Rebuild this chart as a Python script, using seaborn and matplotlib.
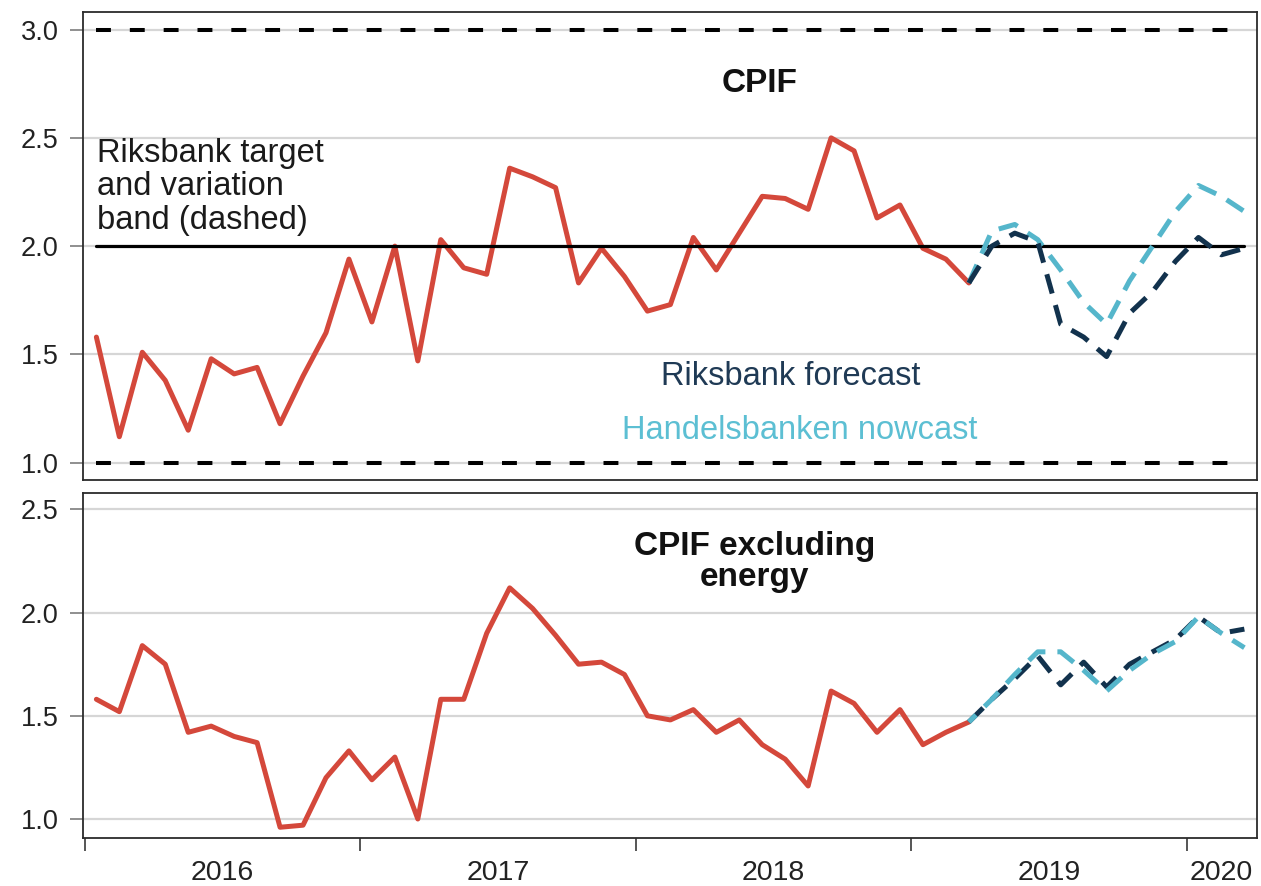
import pandas as pd
import matplotlib.pyplot as plt
import matplotlib.ticker as mticker
import seaborn as sns

# Outcomes, monthly Jan 2016 - Mar 2019 (annual % change)
outcome_months = pd.period_range("2016-01", "2019-03", freq="M")
cpif = [1.58, 1.12, 1.51, 1.38, 1.15, 1.48, 1.41, 1.44, 1.18, 1.40,
        1.60, 1.94, 1.65, 2.00, 1.47, 2.03, 1.90, 1.87, 2.36, 2.32,
        2.27, 1.83, 1.99, 1.86, 1.70, 1.73, 2.04, 1.89, 2.06, 2.23,
        2.22, 2.17, 2.50, 2.44, 2.13, 2.19, 1.99, 1.94, 1.83]
cpif_ex_energy = [1.58, 1.52, 1.84, 1.75, 1.42, 1.45, 1.40, 1.37, 0.96, 0.97,
                  1.20, 1.33, 1.19, 1.30, 1.00, 1.58, 1.58, 1.90, 2.12, 2.02,
                  1.89, 1.75, 1.76, 1.70, 1.50, 1.48, 1.53, 1.42, 1.48, 1.36,
                  1.29, 1.16, 1.62, 1.56, 1.42, 1.53, 1.36, 1.42, 1.47]

# Forecasts Mar 2019 - Mar 2020 (start at last outcome)
forecast_months = pd.period_range("2019-03", "2020-03", freq="M")
riksbank_cpif = [1.83, 2.00, 2.06, 2.02, 1.64, 1.58, 1.49, 1.69, 1.79,
                 1.93, 2.04, 1.96, 1.99]
handelsbanken_cpif = [1.83, 2.07, 2.10, 2.03, 1.89, 1.74, 1.64, 1.84, 2.00,
                      2.16, 2.28, 2.23, 2.16]
riksbank_ex_energy = [1.47, 1.58, 1.68, 1.79, 1.65, 1.76, 1.64, 1.75, 1.81,
                      1.87, 1.98, 1.90, 1.92]
handelsbanken_ex_energy = [1.47, 1.58, 1.70, 1.81, 1.81, 1.72, 1.62, 1.72, 1.80,
                           1.86, 1.98, 1.90, 1.83]

target = 2.0
band = [1.0, 3.0]
years = [2016, 2017, 2018, 2019, 2020]
top_ticks = [1.0, 1.5, 2.0, 2.5, 3.0]
bottom_ticks = [1.0, 1.5, 2.0, 2.5]

RED = "#d4483b"
NAVY = "#12324d"
TEAL = "#55b6cb"


def to_year(months):
    # place each month in the middle of its slot on a decimal-year axis
    return [m.year + (m.month - 0.5) / 12 for m in months]


outcome = pd.DataFrame({"x": to_year(outcome_months), "cpif": cpif,
                        "cpif_xe": cpif_ex_energy})
forecast = pd.DataFrame({"x": to_year(forecast_months),
                         "rb_cpif": riksbank_cpif, "hb_cpif": handelsbanken_cpif,
                         "rb_xe": riksbank_ex_energy, "hb_xe": handelsbanken_ex_energy})

sns.set_style("white")
plt.rcParams["font.family"] = ["Liberation Sans", "DejaVu Sans"]

fig = plt.figure(figsize=(12.61, 8.86), dpi=100)
ax_top = fig.add_axes([0.0658, 0.4582, 0.931, 0.528])
ax_bot = fig.add_axes([0.0658, 0.0542, 0.931, 0.389])

x_start = outcome["x"].iloc[0]
x_end = forecast["x"].iloc[-1]
dash_fc = (0, (4.0, 2.4))

# top panel: CPIF
ax = ax_top
ax.plot([x_start, x_end], [band[0]] * 2, color="black", lw=2.9,
        linestyle=(0, (3.7, 4.7)), zorder=3)
ax.plot([x_start, x_end], [band[1]] * 2, color="black", lw=2.9,
        linestyle=(0, (3.7, 4.7)), zorder=3)
sns.lineplot(data=outcome, x="x", y="cpif", ax=ax, color=RED, lw=3.6, zorder=4)
ax.plot([x_start, x_end], [target] * 2, color="black", lw=2.3, zorder=5)
sns.lineplot(data=forecast, x="x", y="hb_cpif", ax=ax, color=TEAL, lw=3.6,
             linestyle=dash_fc, zorder=6)
sns.lineplot(data=forecast, x="x", y="rb_cpif", ax=ax, color=NAVY, lw=3.6,
             linestyle=dash_fc, zorder=7)
ax.set_ylim(0.92, 3.08)
ax.set_yticks(top_ticks)

ax.text(2018.45, 2.75, "CPIF", ha="center", va="center", fontsize=24,
        fontweight="bold", color="#111111")
ax.text(2016.045, 2.50, "Riksbank target\nand variation\nband (dashed)",
        ha="left", va="top", fontsize=23.5, linespacing=1.1, color="#1a1a1a")
ax.text(2018.56, 1.40, "Riksbank forecast", ha="center", va="center",
        fontsize=23.5, color="#1f3a55")
ax.text(2018.595, 1.147, "Handelsbanken nowcast", ha="center", va="center",
        fontsize=23.5, color="#5cbfd3")

# bottom panel: CPIF excluding energy
ax = ax_bot
sns.lineplot(data=outcome, x="x", y="cpif_xe", ax=ax, color=RED, lw=3.6, zorder=4)
sns.lineplot(data=forecast, x="x", y="rb_xe", ax=ax, color=NAVY, lw=3.6,
             linestyle=dash_fc, zorder=6)
sns.lineplot(data=forecast, x="x", y="hb_xe", ax=ax, color=TEAL, lw=3.6,
             linestyle=(2.0, (4.0, 2.4)), zorder=7)
ax.set_ylim(0.908, 2.578)
ax.set_yticks(bottom_ticks)
ax.text(2018.43, 2.245, "CPIF excluding\nenergy", ha="center", va="center",
        fontsize=24, fontweight="bold", linespacing=1.0, color="#111111")

# year ticks on the boundaries, labels centred in each year
label_pos = [y + 0.5 for y in years[:-1]] + [years[-1] + 0.125]
for ax in (ax_top, ax_bot):
    ax.set_xlim(2015.993, 2020.254)
    ax.set_xlabel("")
    ax.set_ylabel("")
    ax.yaxis.set_major_formatter(mticker.FormatStrFormatter("%.1f"))
    ax.grid(axis="y", color="#d6d6d6", lw=1.6)
    ax.grid(axis="x", visible=False)
    ax.set_axisbelow(True)
    for s in ax.spines.values():
        s.set_visible(True)
        s.set_color("#2b2b2b")
        s.set_linewidth(1.3)
    ax.tick_params(axis="y", left=True, length=9.5, width=1.4, color="#8f8f8f",
                   pad=8, labelsize=19.5, labelcolor="#222222")

ax_top.set_xticks([])
ax_bot.set_xticks(years)
ax_bot.set_xticklabels([])
ax_bot.set_xticks(label_pos, minor=True)
ax_bot.set_xticklabels([str(y) for y in years], minor=True)
ax_bot.tick_params(axis="x", which="major", bottom=True, length=9.5, width=1.4,
                   color="#555555")
ax_bot.tick_params(axis="x", which="minor", bottom=True, length=0, pad=16,
                   labelsize=20.5, labelcolor="#222222")

fig.savefig("out.png", dpi=100)
